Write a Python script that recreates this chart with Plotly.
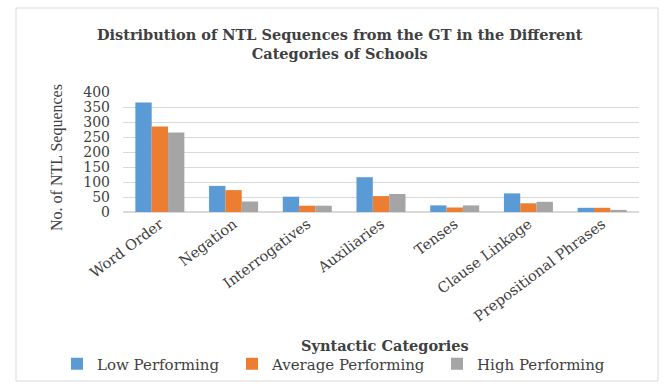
import plotly.graph_objects as go

categories = ["Word Order", "Negation", "Interrogatives", "Auxiliaries", "Tenses",
              "Clause Linkage", "Prepositional Phrases"]
low = [365, 87, 51, 116, 22, 62, 14]
average = [285, 73, 21, 53, 15, 29, 14]
high = [265, 35, 21, 60, 22, 34, 7]
series_names = ["Low Performing", "Average Performing", "High Performing"]
colors = ["#5B9BD5", "#ED7D31", "#A5A5A5"]
y_ticks = [0, 50, 100, 150, 200, 250, 300, 350, 400]

W, H = 668, 386
L, R, T, B = 123, 639, 92, 212  # plot area pixels


def px(x):
    return (x - L) / (R - L)


def py(y):
    return (B - y) / (B - T)


serif = "DejaVu Serif"
legend_ids = ["legend", "legend2", "legend3"]
legend_left = [57, 232, 437]

fig = go.Figure()
for name, vals, c, lg in zip(series_names, [low, average, high], colors, legend_ids):
    fig.add_trace(go.Bar(x=categories, y=vals, name=name, marker_color=c,
                         marker_line_width=0, legend=lg))

legend_layout = {}
for lg, lx in zip(legend_ids, legend_left):
    legend_layout[lg] = dict(orientation="h", xref="container", yref="container",
                             x=lx / W, xanchor="left", y=1 - 364 / H, yanchor="middle",
                             font=dict(family=serif, size=15, color="#404040"),
                             itemwidth=30, bgcolor="rgba(0,0,0,0)")

fig.update_layout(
    width=W, height=H,
    margin=dict(l=L, r=W - R, t=T, b=H - B, autoexpand=False),
    paper_bgcolor="white", plot_bgcolor="white",
    barmode="group", bargap=0.335, bargroupgap=0,
    showlegend=True,
    xaxis=dict(tickangle=-37, tickfont=dict(family=serif, size=14.5, color="#404040"),
               showgrid=False, showline=False, ticks="", automargin=False),
    yaxis=dict(range=[0, 400], tickvals=y_ticks, showgrid=True, gridcolor="#D9D9D9",
               gridwidth=1, zeroline=True, zerolinecolor="#D9D9D9", showline=False,
               tickfont=dict(family=serif, size=14, color="#404040"), ticks="",
               ticklabelstandoff=12, automargin=False),
    annotations=[
        dict(text="<b>Distribution of NTL Sequences from the GT in the Different<br>Categories of Schools</b>",
             xref="paper", yref="paper", x=px(340), y=py(44), xanchor="center", yanchor="middle",
             showarrow=False, font=dict(family=serif, size=14.5, color="#404040")),
        dict(text="No. of NTL Sequences", textangle=-90, xref="paper", yref="paper",
             x=px(57), y=py(158), xanchor="center", yanchor="middle", showarrow=False,
             font=dict(family="Liberation Serif", size=16, color="#404040")),
        dict(text="<b>Syntactic Categories</b>", xref="paper", yref="paper",
             x=px(385), y=py(345), xanchor="center", yanchor="middle", showarrow=False,
             font=dict(family=serif, size=14.5, color="#404040")),
    ],
    shapes=[dict(type="rect", xref="paper", yref="paper", x0=px(16), x1=px(658),
                 y0=py(381), y1=py(8), line=dict(color="#D9D9D9", width=1))],
    **legend_layout,
)

fig.write_html("out.html")
